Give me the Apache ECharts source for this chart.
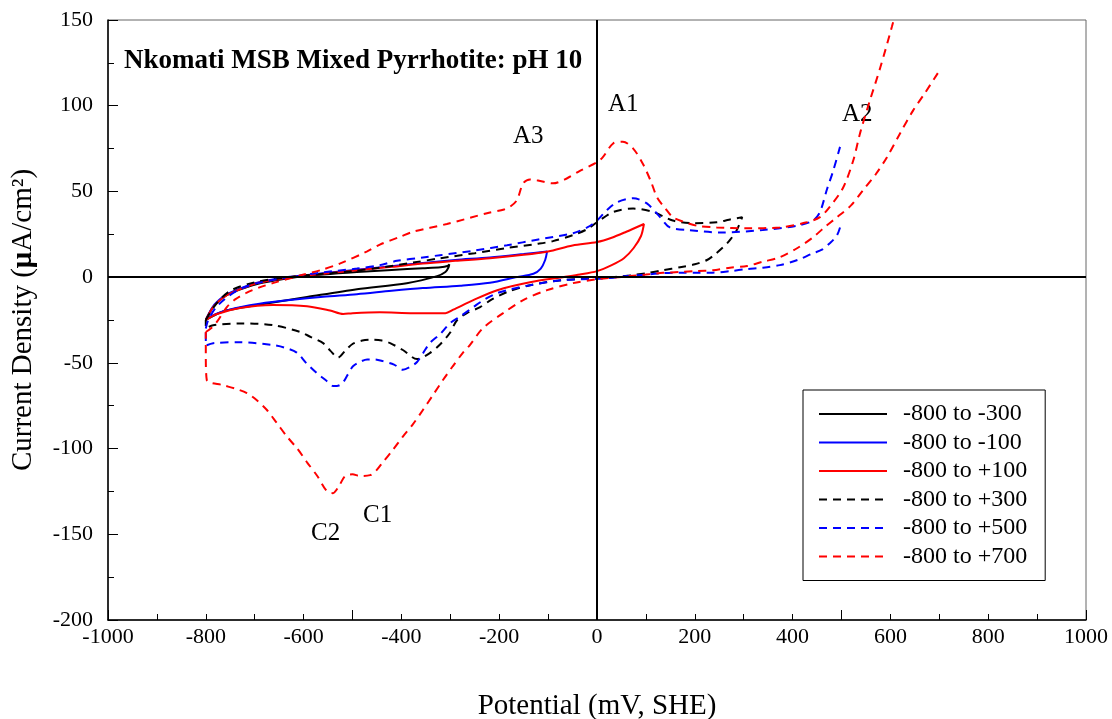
<!DOCTYPE html>
<html><head><meta charset="utf-8">
<script src="https://cdn.jsdelivr.net/npm/echarts@6/dist/echarts.min.js"></script>
<style>html,body{margin:0;padding:0;background:#fff}#c{width:1112px;height:719px}</style>
</head><body><div id="c"></div>
<script>
// ---- data (mV vs SHE, uA/cm2) ----
const seriesNames = ['-800 to -300','-800 to -100','-800 to +100','-800 to +300','-800 to +500','-800 to +700'];
const xTickLabels = [-1000,-800,-600,-400,-200,0,200,400,600,800,1000];
const yTickLabels = [-200,-150,-100,-50,0,50,100,150];

const blackSolid = [[-800,-25],[-785,-17.5],[-765,-12],[-750,-9.5],[-720,-6.2],[-695,-4],[-660,-2],[-628,-0.5],[-560,1.5],[-491,3],[-420,4.2],[-356,5.2],[-320,5.8],[-306,6.5],[-302,7.5],
 [-304,5.5],[-310,3],[-327,0.6],[-389,-3.5],[-491,-7],[-593,-11.6],[-695,-16.3],[-765,-20],[-800,-25]];

const blueSolid = [[-800,-25],[-785,-17],[-765,-11.5],[-750,-9],[-720,-5.5],[-695,-3.2],[-660,-1.2],[-628,0.2],[-560,2.3],[-491,4.3],[-420,6.3],[-356,8.3],[-290,10],[-219,11.5],[-150,13.5],[-102,15],
 [-106,10],[-115,5],[-130,2],[-164,0],[-219,-3.3],[-280,-5],[-356,-6.4],[-420,-8],[-491,-10],[-560,-11.5],[-628,-13.4],[-690,-15.5],[-730,-17.5],[-765,-20],[-791,-23],[-800,-25]];

const redSolid = [[-800,-25],[-785,-17.5],[-765,-12],[-750,-9.5],[-720,-6],[-695,-3.5],[-660,-1.5],[-628,0],[-560,2],[-491,4],[-420,6],[-356,8],[-290,9.5],[-219,11],[-150,13],[-100,15],[-50,18.5],[0,20.5],[30,23],[60,26.5],[96,31],
 [90,24],[75,17],[55,11],[30,7],[0,3.5],[-35,1.5],[-70,0],[-137,-3],[-204,-7.6],[-253,-13.4],[-294,-19],[-310,-21],[-376,-21],[-444,-20.5],[-500,-21],[-519,-21.5],[-546,-19.5],[-593,-17],[-663,-16.3],[-730,-18],[-777,-21.5],[-800,-25]];

const blackDashed = [[-800,-25],[-780,-16],[-750,-8],[-700,-3],[-630,0],[-560,2],[-500,3.5],[-444,5.5],[-376,8.5],[-321,11],[-250,14],[-184,17],[-120,19.5],[-90,21],[-49,24.5],[-20,28],[0,32],[33,38],[74,40],[115,38],[155,33],[196,31.5],[245,32],[270,33.5],[297,35],
 [285,27],[270,21],[258,17.5],[240,13],[225,10],[200,7.5],[170,5.8],[135,4],[102,2.3],[67,1],[33,0],[0,-0.6],[-70,-1.7],[-137,-4.7],[-184,-8.7],[-215,-13],[-239,-17.5],[-266,-21],[-286,-25],[-301,-32.6],[-320,-39],[-342,-44.3],[-368,-47.8],[-397,-42.5],[-423,-38.5],[-440,-37],[-460,-36.5],[-480,-37],[-500,-39],[-515,-43],[-530,-47],[-545,-43],[-560,-38.5],[-585,-35],[-607,-32],[-663,-28],[-730,-27],[-785,-28],[-800,-30],[-800,-25]];

const blueDashedFwd = [[-800,-30],[-795,-25],[-780,-18],[-760,-12.5],[-730,-7],[-695,-3.5],[-628,0],[-560,2.8],[-491,5],[-444,7],[-409,9.5],[-356,11.5],[-321,12.8],[-250,15.5],[-184,18.6],[-120,22],[-49,25.6],[-20,29],[0,33],[20,39],[41,43.7],[74,46],[102,43],[129,35],[149,29],[190,27.4],[252,26],[339,27.5],[409,30],[442,33],[456,38],[470,51],[483,62],[497,76]];
const blueDashedRev = [[497,29],[490,24],[476,19.8],[460,16],[442,14],[410,10],[374,7],[339,5.5],[307,4.7],[272,3.5],[237,2.6],[204,2.5],[170,2.6],[135,2.3],[100,1.5],[67,0.8],[33,-0.3],[0,-1],[-70,-1.7],[-137,-4.7],[-175,-7],[-204,-9.3],[-230,-13],[-253,-17.5],[-280,-23],[-301,-27],[-320,-33],[-342,-38.5],[-355,-44],[-368,-49.5],[-380,-52],[-397,-54],[-415,-51],[-438,-49],[-455,-48],[-470,-48],[-485,-49.5],[-499,-52],[-510,-57],[-521,-62],[-532,-63.5],[-540,-63.5],[-555,-60],[-573,-56],[-595,-50],[-614,-44],[-640,-41],[-663,-39.6],[-730,-38],[-785,-38.5],[-800,-40],[-800,-30]];

const redDashedFwd = [[-800,-32],[-790,-30],[-777,-26],[-757,-17.5],[-740,-13],[-716,-9],[-690,-6],[-663,-3.5],[-607,1],[-560,4.5],[-525,8],[-470,15],[-444,19],[-403,23.5],[-376,26.5],[-307,31],[-225,37.3],[-190,39.5],[-178,41],[-164,44.8],[-151,54.7],[-137,57],[-123,56.5],[-90,54.7],[-61,57.7],[-35,62],[0,67],[12,70],[33,78],[53,79],[74,75],[94,66],[110,56],[123,46.5],[140,40],[155,35],[175,32.5],[204,30],[245,29],[307,28.5],[374,29],[429,32],[456,35],[476,41],[503,52],[524,68],[538,84],[558,103],[579,122],[603,146],[620,165]];
const redDashedRev = [[697,119],[672,108],[646,97],[620,84],[593,70],[570,60],[544,50.7],[520,42],[491,35],[465,29],[442,23.3],[410,17],[374,11.6],[339,9],[307,6.5],[272,5.5],[237,4],[204,3.5],[170,3],[135,2.5],[100,1.5],[67,0.6],[33,-0.3],[0,-1.2],[-49,-3.5],[-102,-7.6],[-151,-13.4],[-192,-21],[-233,-29.7],[-260,-39.6],[-274,-44],[-295,-52],[-315,-60],[-336,-69],[-356,-77.5],[-377,-86],[-397,-93],[-418,-101],[-438,-108],[-452,-113],[-464,-115.5],[-485,-116],[-500,-115],[-515,-116],[-528,-122],[-540,-126],[-552,-125],[-572,-116],[-593,-108],[-613,-100],[-634,-93],[-655,-85],[-675,-77.5],[-695,-72],[-716,-67.6],[-740,-65],[-765,-63],[-798,-60],[-800,-45],[-800,-32]];

const annotations = [['A1',608,92],['A3',513,124],['A2',842,102],['C1',363,503],['C2',311,521]];
const titleText = 'Nkomati MSB Mixed Pyrrhotite: pH 10';

// ---- chart ----
const FONT = '"Liberation Serif", "Times New Roman", serif';
const chart = echarts.init(document.getElementById('c'), null, {renderer:'canvas'});
const BLACK = '#000000', BLUE = '#0000ff', RED = '#ff0000';
function mk(name, data, color, dashed, extra) {
  return Object.assign({
    name: name, type: 'line', data: data, symbol: 'none', smooth: 0.3,
    xAxisIndex: 0, yAxisIndex: 0,
    lineStyle: {color: color, width: 2, type: dashed ? [8, 6] : 'solid'},
    itemStyle: {color: color}, animation: false, z: 3
  }, extra || {});
}
const series = [
  mk(seriesNames[0], blackSolid, BLACK, false, {
    markLine: {silent: true, symbol: 'none', label: {show: false}, animation: false,
      lineStyle: {color: '#000', width: 2, type: 'solid'},
      data: [{xAxis: 0}, {yAxis: 0}]}
  }),
  mk(seriesNames[1], blueSolid, BLUE, false),
  mk(seriesNames[2], redSolid, RED, false),
  mk(seriesNames[3], blackDashed, BLACK, true),
  mk(seriesNames[4], blueDashedFwd, BLUE, true),
  mk(seriesNames[4], blueDashedRev, BLUE, true),
  mk(seriesNames[5], redDashedFwd, RED, true),
  mk(seriesNames[5], redDashedRev, RED, true)
];

const graphics = [{
  type: 'text', left: 124, top: 48,
  style: {text: titleText, font: 'bold 27px ' + FONT, fill: '#000'}
}];
annotations.forEach(a => graphics.push({
  type: 'text', left: a[1], top: a[2],
  style: {text: a[0], font: '25px ' + FONT, fill: '#000'}
}));

chart.setOption({
  backgroundColor: '#fff',
  animation: false,
  grid: {left: 108, right: 26, top: 20, bottom: 99, show: true, borderColor: '#666', borderWidth: 1,
    backgroundColor: 'transparent', containLabel: false, outerBoundsMode: 'none'},
  legend: {
    data: seriesNames, orient: 'vertical', left: 803, top: 390,
    itemWidth: 68, itemHeight: 12, itemGap: 4.5,
    padding: [12, 18, 12, 15],
    borderColor: '#000', borderWidth: 1, backgroundColor: '#fff',
    itemStyle: {opacity: 0},
    textStyle: {fontFamily: FONT, fontSize: 24, color: '#000', padding: [0, 0, 0, 11]},
    selectedMode: false
  },
  xAxis: [{
    type: 'value', min: -1000, max: 1000, interval: 100,
    name: 'Potential (mV, SHE)', nameLocation: 'middle', nameGap: 72,
    nameTextStyle: {fontFamily: FONT, fontSize: 29, color: '#000'},
    axisLine: {onZero: false, lineStyle: {color: '#000', width: 1.5}},
    axisTick: {inside: true, length: 6, lineStyle: {color: '#000'}},
    axisLabel: {fontFamily: FONT, fontSize: 22, color: '#000', margin: 6,
      formatter: v => xTickLabels.indexOf(v) >= 0 ? String(v) : ''},
    splitLine: {show: false}
  }, {
    type: 'value', min: -1000, max: 1000, interval: 500, position: 'bottom',
    axisLine: {show: false, onZero: false}, axisLabel: {show: false}, splitLine: {show: false},
    axisTick: {inside: true, length: 10, lineStyle: {color: '#000'}}
  }],
  yAxis: {
    type: 'value', min: -200, max: 150, interval: 50,
    name: '{n|Current Density (}{b|μ}{n|A/cm²)}', nameLocation: 'middle', nameGap: 70,
    nameTextStyle: {fontFamily: FONT, fontSize: 29, color: '#000',
      rich: {n: {fontFamily: FONT, fontSize: 29, color: '#000'}, b: {fontFamily: FONT, fontSize: 29, fontWeight: 'bold', color: '#000'}}},
    axisLine: {onZero: false, lineStyle: {color: '#000', width: 1.5}},
    axisTick: {inside: true, length: 10, lineStyle: {color: '#000'}},
    minorTick: {show: true, splitNumber: 2, length: 6, lineStyle: {color: '#000'}},
    axisLabel: {fontFamily: FONT, fontSize: 22, color: '#000', margin: 15,
      formatter: v => yTickLabels.indexOf(v) >= 0 ? String(v) : ''},
    splitLine: {show: false}
  },
  graphic: graphics,
  series: series
});
</script></body></html>
